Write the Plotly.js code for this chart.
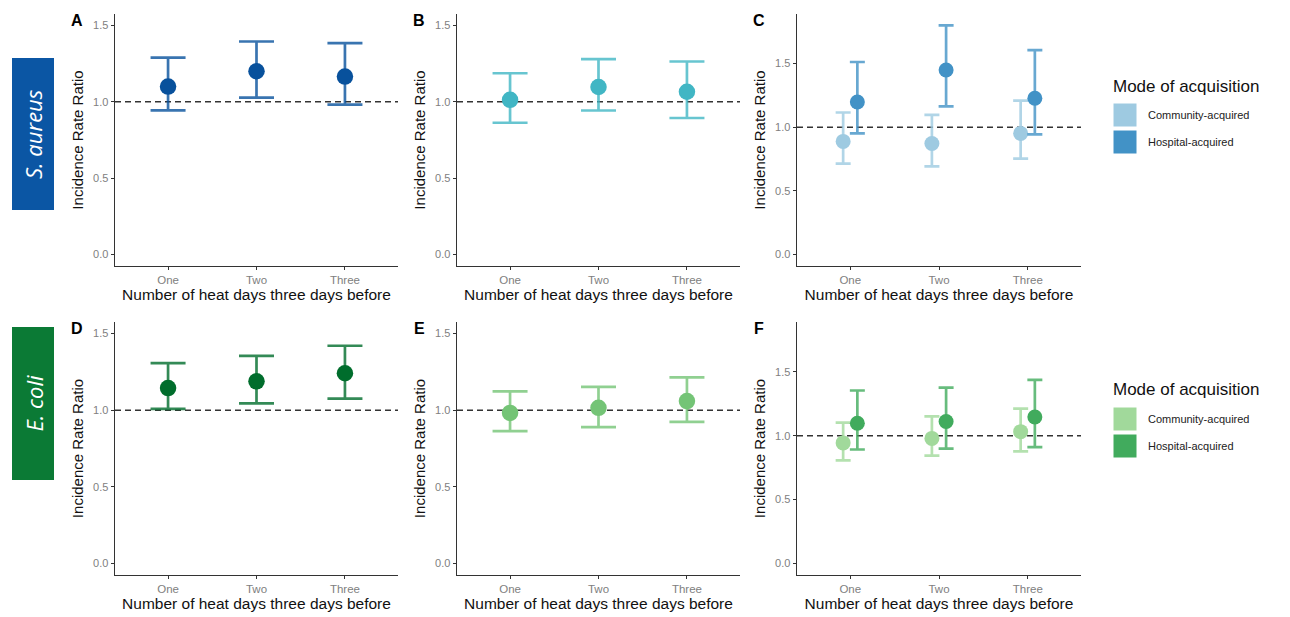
<!DOCTYPE html>
<html>
<head>
<meta charset="utf-8">
<script src="https://cdn.plot.ly/plotly-3.0.1.min.js"></script>
<style>html,body{margin:0;padding:0;background:#fff;}#chart{width:1290px;height:617px;}</style>
</head>
<body>
<div id="chart"></div>
<script>
// ---- data ----
const categories = ['One', 'Two', 'Three'];

const A_est = [1.100, 1.200, 1.165];
const A_lo  = [0.944, 1.027, 0.982];
const A_hi  = [1.290, 1.395, 1.384];

const B_est = [1.013, 1.097, 1.066];
const B_lo  = [0.863, 0.943, 0.894];
const B_hi  = [1.187, 1.280, 1.264];

const C_comm_est = [0.889, 0.873, 0.952];
const C_comm_lo  = [0.714, 0.693, 0.754];
const C_comm_hi  = [1.116, 1.098, 1.210];
const C_hosp_est = [1.198, 1.450, 1.228];
const C_hosp_lo  = [0.952, 1.164, 0.944];
const C_hosp_hi  = [1.513, 1.800, 1.606];

const D_est = [1.144, 1.188, 1.241];
const D_lo  = [1.009, 1.044, 1.075];
const D_hi  = [1.307, 1.354, 1.420];

const E_est = [0.982, 1.015, 1.059];
const E_lo  = [0.863, 0.890, 0.923];
const E_hi  = [1.123, 1.152, 1.214];

const F_comm_est = [0.944, 0.979, 1.032];
const F_comm_lo  = [0.807, 0.844, 0.878];
const F_comm_hi  = [1.103, 1.151, 1.212];
const F_hosp_est = [1.098, 1.111, 1.146];
const F_hosp_lo  = [0.892, 0.899, 0.910];
const F_hosp_hi  = [1.354, 1.376, 1.437];

const panelLetters = ['A', 'B', 'C', 'D', 'E', 'F'];
const modeNames = ['Community-acquired', 'Hospital-acquired'];
const organisms = ['S. aureus', 'E. coli'];
const yTitle = 'Incidence Rate Ratio';
const xTitle = 'Number of heat days three days before';
const yTicks = [0, 0.5, 1.0, 1.5];

// ---- styling ----
const W = 1290, H = 617;
const FONT = 'Liberation Sans, Arial, sans-serif';
function rgba(hex, a) {
  const n = parseInt(hex.slice(1), 16);
  return `rgba(${(n >> 16) & 255},${(n >> 8) & 255},${n & 255},${a})`;
}
const px = (x) => x / W;
const py = (y) => 1 - y / H;

const colDomains = [[115, 398], [457, 740], [797, 1081]];
const rowDomains = [[14, 266], [322, 575]];

function pos(offset) { return categories.map((c, i) => i + 1 + offset); }

function series(est, lo, hi, color, axIdx, offset, cap, size, name) {
  const s = axIdx === 1 ? '' : String(axIdx);
  return {
    type: 'scatter', mode: 'markers',
    x: pos(offset), y: est,
    text: categories,
    name: name || '',
    xaxis: 'x' + s, yaxis: 'y' + s,
    showlegend: false,
    marker: { color: color, size: size },
    error_y: {
      type: 'data', symmetric: false,
      array: est.map((v, i) => hi[i] - v),
      arrayminus: est.map((v, i) => v - lo[i]),
      color: rgba(color, 0.8), thickness: 2.7, width: cap
    },
    hoverinfo: 'x+y+text'
  };
}

const cA = '#08519c', cB = '#41b6c4', cCc = '#9ecae1', cCh = '#4292c6';
const cD = '#006d2c', cE = '#74c476', cFc = '#a1d99b', cFh = '#41ab5d';
const dodge = 0.08;

const traces = [
  series(A_est, A_lo, A_hi, cA, 1, 0, 17.5, 16.5),
  series(B_est, B_lo, B_hi, cB, 2, 0, 17.5, 16.5),
  series(C_comm_est, C_comm_lo, C_comm_hi, cCc, 3, -dodge, 7.5, 15, modeNames[0]),
  series(C_hosp_est, C_hosp_lo, C_hosp_hi, cCh, 3, dodge, 7.5, 15, modeNames[1]),
  series(D_est, D_lo, D_hi, cD, 4, 0, 17.5, 16.5),
  series(E_est, E_lo, E_hi, cE, 5, 0, 17.5, 16.5),
  series(F_comm_est, F_comm_lo, F_comm_hi, cFc, 6, -dodge, 7.5, 15, modeNames[0]),
  series(F_hosp_est, F_hosp_lo, F_hosp_hi, cFh, 6, dodge, 7.5, 15, modeNames[1])
];

const layout = {
  width: W, height: H,
  margin: { l: 0, r: 0, t: 0, b: 0 },
  paper_bgcolor: '#fff', plot_bgcolor: '#fff',
  font: { family: FONT, color: '#222' },
  showlegend: false,
  shapes: [], annotations: []
};

for (let k = 0; k < 6; k++) {
  const r = Math.floor(k / 3), c = k % 3;
  const s = k === 0 ? '' : String(k + 1);
  const wide = (c === 2);
  layout['xaxis' + s] = {
    domain: [px(colDomains[c][0]), px(colDomains[c][1])],
    anchor: 'y' + s,
    range: [0.4, 3.6],
    tickvals: categories.map((cat, i) => i + 1),
    ticktext: categories,
    showgrid: false, zeroline: false,
    showline: true, linecolor: '#333', linewidth: 1.4,
    ticks: 'outside', ticklen: 3, tickcolor: '#333', tickwidth: 1,
    tickfont: { size: 11.5, color: '#808080', family: FONT },
    title: { text: xTitle, font: { size: 15.5, color: '#111', family: FONT }, standoff: 4 },
    fixedrange: true
  };
  layout['yaxis' + s] = {
    domain: [py(rowDomains[r][1]), py(rowDomains[r][0])],
    anchor: 'x' + s,
    range: wide ? [-0.09, 1.89] : [-0.075, 1.575],
    tickvals: yTicks,
    tickformat: '.1f',
    showgrid: false, zeroline: false,
    showline: true, linecolor: '#333', linewidth: 1.4,
    ticks: 'outside', ticklen: 3, tickcolor: '#333', tickwidth: 1,
    tickfont: { size: 11, color: '#808080', family: FONT },
    title: { text: yTitle, font: { size: 15, color: '#111', family: FONT }, standoff: 6 },
    fixedrange: true
  };
  // reference line at IRR = 1
  layout.shapes.push({
    type: 'line', xref: 'x' + s + ' domain', yref: 'y' + s,
    x0: 0, x1: 1, y0: 1, y1: 1,
    line: { color: '#333', width: 1.5, dash: '6px,4px' }, layer: 'below'
  });
  // panel letter
  layout.annotations.push({
    text: '<b>' + panelLetters[k] + '</b>', xref: 'paper', yref: 'paper',
    x: px(colDomains[c][0] - 38), y: py(rowDomains[r][0] + 6),
    xanchor: 'center', yanchor: 'middle', showarrow: false,
    font: { size: 16, color: '#000', family: FONT }
  });
}

// organism side labels
const orgBoxes = [[58, 210, '#0b56a4'], [327, 480, '#0b7a35']];
orgBoxes.forEach((b, i) => {
  layout.shapes.push({
    type: 'rect', xref: 'paper', yref: 'paper',
    x0: px(12), x1: px(54), y0: py(b[1]), y1: py(b[0]),
    fillcolor: b[2], line: { width: 0 }
  });
  layout.annotations.push({
    text: '<i>' + organisms[i] + '</i>', xref: 'paper', yref: 'paper',
    x: px(33), y: py((b[0] + b[1]) / 2), textangle: -90,
    xanchor: 'center', yanchor: 'middle', showarrow: false,
    font: { size: 22, color: '#fff', family: 'Open Sans, sans-serif' }
  });
});

// legends (Mode of acquisition) for panels C and F
const legendSpecs = [
  { titleY: 86, rows: [[103, 127], [130, 154]], cols: [cCc, cCh] },
  { titleY: 389, rows: [[407, 431], [434, 458]], cols: [cFc, cFh] }
];
legendSpecs.forEach(L => {
  layout.annotations.push({
    text: 'Mode of acquisition', xref: 'paper', yref: 'paper',
    x: px(1111), y: py(L.titleY), xanchor: 'left', yanchor: 'middle',
    showarrow: false, font: { size: 17, color: '#111', family: FONT }
  });
  L.rows.forEach((rw, j) => {
    layout.shapes.push({
      type: 'rect', xref: 'paper', yref: 'paper',
      x0: px(1113), x1: px(1137), y0: py(rw[1]), y1: py(rw[0]),
      fillcolor: L.cols[j], line: { color: '#fff', width: 1 }
    });
    layout.annotations.push({
      text: modeNames[j], xref: 'paper', yref: 'paper',
      x: px(1146), y: py((rw[0] + rw[1]) / 2), xanchor: 'left', yanchor: 'middle',
      showarrow: false, font: { size: 11, color: '#222', family: FONT }
    });
  });
});

Plotly.newPlot('chart', traces, layout, { displayModeBar: false, staticPlot: true });
</script>
</body>
</html>
